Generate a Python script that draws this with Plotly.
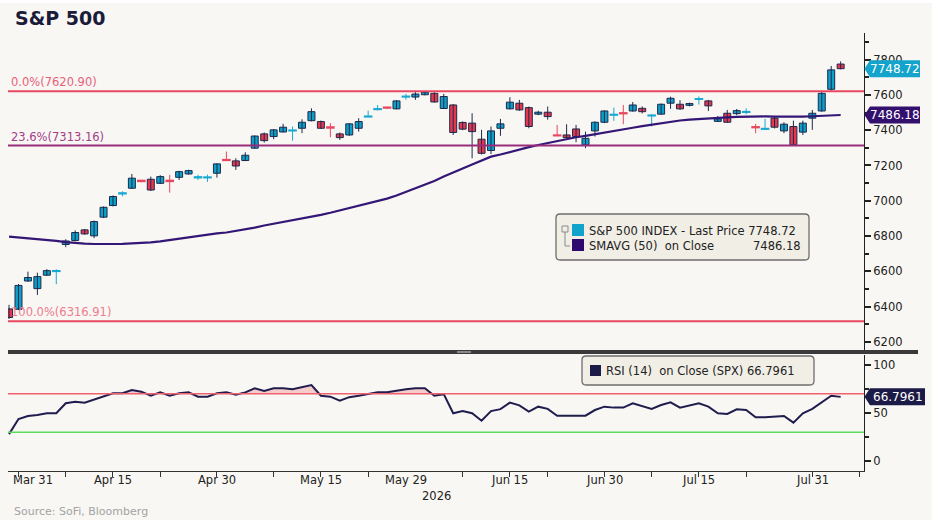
import plotly.graph_objects as go
import pandas as pd

W, H = 932, 520

# ---------------- data ----------------
holidays = ["2026-04-03", "2026-05-25", "2026-06-19", "2026-07-03"]
calendar = pd.bdate_range("2026-03-30", "2026-08-07", freq="C", holidays=holidays)

open_ = [6387, 6385, 6545, 6502, 6578, 6600, 6752, 6775, 6835, 6801,
         6907, 6973, 7040, 7071, 7115, 7122, 7099, 7115, 7133, 7152,
         7131, 7131, 7156, 7233, 7226, 7228, 7298, 7379, 7364, 7390,
         7397, 7411, 7454, 7449, 7418, 7379, 7373, 7411, 7476, 7518,
         7530, 7521, 7589, 7588, 7601, 7609, 7523, 7543, 7444, 7440,
         7349, 7285, 7411, 7521, 7553, 7528, 7491, 7502, 7372, 7373,
         7407, 7317, 7396, 7445, 7486, 7498, 7509, 7524, 7482, 7491,
         7553, 7547, 7541, 7576, 7566, 7450, 7496, 7494, 7502, 7419,
         7406, 7468, 7396, 7421, 7389, 7468, 7509, 7632, 7775]
high_ = [6410, 6528, 6598, 6592, 6612, 6612, 6782, 6832, 6840, 6888,
         6968, 7030, 7054, 7152, 7118, 7137, 7145, 7147, 7170, 7176,
         7147, 7148, 7212, 7279, 7241, 7275, 7370, 7387, 7406, 7436,
         7421, 7462, 7524, 7455, 7440, 7387, 7440, 7468, 7511, 7543,
         7533, 7570, 7606, 7617, 7620.9, 7615, 7606, 7548, 7450, 7496,
         7402, 7421, 7464, 7587, 7572, 7534, 7510, 7534, 7430, 7434,
         7430, 7392, 7450, 7512, 7528, 7543, 7560, 7535, 7490, 7552,
         7590, 7570, 7556, 7591, 7572, 7480, 7515, 7520, 7524, 7436,
         7464, 7481, 7445, 7454, 7454, 7515, 7619, 7764, 7790]
low_ = [6330, 6380, 6540, 6466, 6575, 6527, 6737, 6770, 6808, 6788,
        6902, 6968, 7025, 7068, 7105, 7055, 7095, 7046, 7118, 7148,
        7118, 7107, 7131, 7228, 7175, 7225, 7295, 7330, 7349, 7387,
        7341, 7383, 7450, 7408, 7360, 7345, 7368, 7392, 7474, 7512,
        7522, 7518, 7573, 7572, 7598, 7556, 7520, 7373, 7400, 7241,
        7262, 7265, 7368, 7518, 7510, 7411, 7485, 7460, 7366, 7355,
        7332, 7298, 7364, 7440, 7453, 7434, 7505, 7495, 7421, 7488,
        7521, 7515, 7535, 7545, 7509, 7447, 7442, 7485, 7490, 7383,
        7404, 7410, 7383, 7312, 7373, 7402, 7505, 7625, 7745]
close_ = [6338, 6520, 6565, 6570, 6604, 6603, 6772, 6820, 6812, 6882,
          6963, 7024, 7044, 7128, 7110, 7061, 7137, 7110, 7165, 7171,
          7135, 7134, 7209, 7229, 7197, 7258, 7367, 7341, 7402, 7417,
          7400, 7445, 7505, 7411, 7413, 7358, 7436, 7449, 7479, 7521,
          7526, 7566, 7592, 7605, 7615, 7560, 7591, 7387, 7406, 7392,
          7269, 7396, 7436, 7559, 7515, 7421, 7502, 7477, 7369, 7358,
          7364, 7354, 7445, 7509, 7489, 7494, 7543, 7505, 7485, 7547,
          7581, 7521, 7551, 7578, 7538, 7464, 7445, 7511, 7505, 7415,
          7409, 7417, 7434, 7317, 7440, 7496, 7609, 7742, 7748.72]
sma50 = [6797, 6793, 6789, 6785, 6780, 6773, 6766, 6760, 6757, 6755,
         6754, 6755, 6756, 6758, 6760, 6764, 6770, 6778, 6786, 6794,
         6803, 6810, 6815, 6820, 6828, 6838, 6848, 6860, 6870, 6878,
         6887, 6897, 6908, 6920, 6932, 6945, 6958, 6970, 6983, 6997,
         7012, 7030, 7050, 7070, 7090, 7112, 7137, 7162, 7183, 7205,
         7228, 7250, 7262, 7277, 7292, 7304, 7316, 7327, 7340, 7352,
         7360, 7368, 7378, 7385, 7395, 7405, 7414, 7423, 7432, 7440,
         7448, 7455, 7460, 7464, 7467, 7470, 7473, 7475, 7477, 7478,
         7478, 7477, 7476, 7476, 7477, 7479, 7481, 7484, 7486.18]
rsi14 = [28.0, 43.7, 46.9, 47.9, 49.7, 49.7, 60.1, 61.8, 60.8, 64.3,
         67.7, 70.5, 70.5, 74.0, 72.2, 68.0, 71.5, 68.0, 70.5, 71.5,
         67.0, 67.0, 70.5, 71.5, 69.0, 71.5, 75.7, 73.0, 75.7, 75.7,
         74.7, 76.7, 79.1, 68.0, 67.0, 62.8, 66.5, 68.0, 69.5, 71.5,
         71.5, 73.3, 74.7, 75.7, 75.7, 68.0, 69.6, 49.7, 52.0, 49.7,
         42.0, 52.0, 54.0, 60.8, 58.0, 51.4, 56.6, 54.3, 47.2, 47.2,
         47.2, 47.2, 53.1, 56.6, 55.6, 55.6, 60.1, 57.3, 54.3, 58.3,
         61.1, 55.6, 57.6, 60.1, 56.6, 49.7, 49.0, 53.8, 53.1, 45.5,
         45.5, 46.2, 46.9, 40.0, 49.7, 54.3, 60.8, 68.0, 66.7961]

fib_levels = [7620.90, 7313.16, 6316.91]
fib_labels = ["0.0%(7620.90)", "23.6%(7313.16)", "100.0%(6316.91)"]
rsi_over, rsi_under = 70, 30

tick_dates = ["2026-03-31", "2026-04-08", "2026-04-15", "2026-04-22", "2026-04-30",
              "2026-05-08", "2026-05-15", "2026-05-22", "2026-06-08", "2026-06-15",
              "2026-06-22", "2026-06-30", "2026-07-08", "2026-07-15", "2026-07-22",
              "2026-07-31", "2026-08-07"]
label_dates = ["2026-03-31", "2026-04-15", "2026-04-30", "2026-05-15", "2026-05-29",
               "2026-06-15", "2026-06-30", "2026-07-15", "2026-07-31"]
label_texts = ["Mar 31", "Apr 15", "Apr 30", "May 15", "May 29",
               "Jun 15", "Jun 30", "Jul 15", "Jul 31"]

# ---------------- helpers ----------------
n = len(close_)
idx = list(range(n))
pos = {d.strftime("%Y-%m-%d"): i for i, d in enumerate(calendar)}
FONT = "DejaVu Sans"
BG = "#F8F7F3"


def px(x):
    return x / W


def py(y):
    return 1 - y / H


X_DOM = [px(8), px(864)]
Y2_DOM = [py(350), py(33)]
Y1_DOM = [py(471), py(355)]
Y2_RANGE = [6154, 7951]
Y1_RANGE = [-10.4, 110.4]
X_RANGE = [-0.11, 90.47]

p_per_px = (Y2_RANGE[1] - Y2_RANGE[0]) / (350 - 33)
r_per_px = (Y1_RANGE[1] - Y1_RANGE[0]) / (471 - 355)

UP = "#0C9FC8"
DN = "#E5384F"
UP_DOJI = "#18A8D0"
DN_DOJI = "#E8485F"
OUTLINE = "#1D2A4C"

is_up = [c >= o for o, c in zip(open_, close_)]
doji = [abs(c - o) < 6 for o, c in zip(open_, close_)]

fig = go.Figure()

# wicks
for want_doji in (False, True):
    for up in (True, False):
        ids = [i for i in idx if doji[i] == want_doji and is_up[i] == up]
        if not ids:
            continue
        wx, wy = [], []
        for i in ids:
            wx += [i, i, None]
            wy += [low_[i], high_[i], None]
        col = OUTLINE if not want_doji else (UP_DOJI if up else DN_DOJI)
        fig.add_trace(go.Scatter(x=wx, y=wy, mode="lines", xaxis="x2", yaxis="y2",
                                 line=dict(color=col, width=1), hoverinfo="skip"))

# bodies
for want_doji in (False, True):
    for up in (True, False):
        ids = [i for i in idx if doji[i] == want_doji and is_up[i] == up]
        if not ids:
            continue
        base = [min(open_[i], close_[i]) for i in ids]
        hgt = [max(abs(close_[i] - open_[i]), 1.5) for i in ids]
        fill = UP if up else DN
        if want_doji:
            fill = UP_DOJI if up else DN_DOJI
            line = dict(color=fill, width=1.6)
        else:
            line = dict(color=OUTLINE, width=1)
        fig.add_trace(go.Bar(x=ids, y=hgt, base=base, width=0.74, xaxis="x2", yaxis="y2",
                             marker=dict(color=fill, line=line), hoverinfo="skip"))

fig.add_trace(go.Scatter(x=idx, y=sma50, xaxis="x2", yaxis="y2", mode="lines",
                         line=dict(color="#331676", width=2.2), hoverinfo="skip"))

# RSI overbought fill
fig.add_trace(go.Scatter(x=idx, y=[rsi_over] * n, mode="lines", line=dict(width=0),
                         hoverinfo="skip", xaxis="x", yaxis="y"))
fig.add_trace(go.Scatter(x=idx, y=[max(v, rsi_over) for v in rsi14], mode="lines",
                         line=dict(width=0), fill="tonexty",
                         fillcolor="rgba(240,120,130,0.35)", hoverinfo="skip",
                         xaxis="x", yaxis="y"))
fig.add_trace(go.Scatter(x=idx, y=rsi14, mode="lines", xaxis="x", yaxis="y",
                         line=dict(color="#1F1D4D", width=2), hoverinfo="skip"))

shapes = []
annotations = []

# top white strip of the frame
shapes.append(dict(type="rect", xref="paper", yref="paper", x0=0, x1=1,
                   y0=py(3), y1=1, line=dict(width=0), fillcolor="#FFFFFF"))

# fib lines
fib_colors = ["#E8485F", "#9A2C7C", "#E8485F"]
fib_text_colors = ["#E8607A", "#A33D8A", "#EE7A8C"]
for lvl, lab, c, tc in zip(fib_levels, fib_labels, fib_colors, fib_text_colors):
    shapes.append(dict(type="line", xref="x2 domain", yref="y2", x0=0, x1=1,
                       y0=lvl, y1=lvl, line=dict(color=c, width=2)))
    annotations.append(dict(text=lab, xref="paper", yref="y2", x=px(9), y=lvl,
                            xanchor="left", yanchor="bottom", showarrow=False,
                            font=dict(family=FONT, size=11.5, color=tc)))

# RSI reference lines
shapes.append(dict(type="line", xref="x domain", yref="y", x0=0, x1=1,
                   y0=rsi_over, y1=rsi_over, line=dict(color="#F0606E", width=1.5)))
shapes.append(dict(type="line", xref="x domain", yref="y", x0=0, x1=1,
                   y0=rsi_under, y1=rsi_under, line=dict(color="#5CDB5C", width=1.5)))

# separator bar
shapes.append(dict(type="rect", xref="paper", yref="paper", x0=px(8), x1=px(918),
                   y0=py(354), y1=py(350), line=dict(width=0), fillcolor="#3A3A3A"))
shapes.append(dict(type="rect", xref="paper", yref="paper", x0=px(457), x1=px(471),
                   y0=py(353), y1=py(351), line=dict(width=0), fillcolor="#8A8A8A"))


def badge(value, yref, per_px, color, right, text):
    hh = 8.5 * per_px
    path = (f"M {px(864.5)},{value} L {px(870)},{value + hh} L {px(right)},{value + hh} "
            f"L {px(right)},{value - hh} L {px(870)},{value - hh} Z")
    shapes.append(dict(type="path", xref="paper", yref=yref, path=path,
                       fillcolor=color, line=dict(width=0), layer="above"))
    annotations.append(dict(text=text, xref="paper", yref=yref, x=px((870 + right) / 2),
                            y=value, xanchor="center", yanchor="middle", showarrow=False,
                            font=dict(family=FONT, size=12, color="white")))


badge(close_[-1], "y2", p_per_px, "#13A3CB", 920, f"{close_[-1]:.2f}")
badge(sma50[-1], "y2", p_per_px, "#34106E", 920, f"{sma50[-1]:.2f}")
badge(rsi14[-1], "y", r_per_px, "#1C1A46", 925, f"{rsi14[-1]:.4f}")


def rrect(x0, y0, x1, y1, r=4):
    rx, ry = r / W, r / H
    a0, b0, a1, b1 = px(x0), py(y1), px(x1), py(y0)
    return (f"M {a0 + rx},{b0} L {a1 - rx},{b0} Q {a1},{b0} {a1},{b0 + ry} "
            f"L {a1},{b1 - ry} Q {a1},{b1} {a1 - rx},{b1} L {a0 + rx},{b1} "
            f"Q {a0},{b1} {a0},{b1 - ry} L {a0},{b0 + ry} Q {a0},{b0} {a0 + rx},{b0} Z")


TXT = dict(family=FONT, size=11.5, color="#222222")

# price legend box
shapes.append(dict(type="path", xref="paper", yref="paper", path=rrect(556, 214, 809, 260),
                   fillcolor="#F1EEE6", line=dict(color="#6E6E6E", width=1.3)))
shapes.append(dict(type="rect", xref="paper", yref="paper", x0=px(562), x1=px(568),
                   y0=py(232), y1=py(226), line=dict(color="#8A8A8A", width=1)))
shapes.append(dict(type="path", xref="paper", yref="paper",
                   path=f"M {px(565)},{py(232)} L {px(565)},{py(246)} L {px(570)},{py(246)}",
                   line=dict(color="#8A8A8A", width=1)))
shapes.append(dict(type="rect", xref="paper", yref="paper", x0=px(572), x1=px(584),
                   y0=py(236), y1=py(224), line=dict(width=0), fillcolor="#10A3CC"))
shapes.append(dict(type="rect", xref="paper", yref="paper", x0=px(572), x1=px(584),
                   y0=py(251), y1=py(239), line=dict(width=0), fillcolor="#2E0A6E"))
annotations.append(dict(text=f"S&P 500 INDEX - Last Price {close_[-1]:.2f}",
                        xref="paper", yref="paper", x=px(587), y=py(230.5),
                        xanchor="left", yanchor="middle", showarrow=False, font=TXT))
annotations.append(dict(text="SMAVG (50)\u00a0\u00a0on Close", xref="paper", yref="paper",
                        x=px(587), y=py(245.5), xanchor="left", yanchor="middle",
                        showarrow=False, font=TXT))
annotations.append(dict(text=f"{sma50[-1]:.2f}", xref="paper", yref="paper",
                        x=px(803), y=py(245.5), xanchor="right", yanchor="middle",
                        showarrow=False, font=TXT))

# RSI legend box
shapes.append(dict(type="path", xref="paper", yref="paper", path=rrect(582, 356, 814, 385),
                   fillcolor="#F1EEE6", line=dict(color="#6E6E6E", width=1.3)))
shapes.append(dict(type="rect", xref="paper", yref="paper", x0=px(590), x1=px(601),
                   y0=py(376), y1=py(365), line=dict(width=0), fillcolor="#1C1A46"))
annotations.append(dict(text=f"RSI (14)\u00a0\u00a0on Close (SPX) {rsi14[-1]:.4f}",
                        xref="paper", yref="paper", x=px(604), y=py(370.5),
                        xanchor="left", yanchor="middle", showarrow=False, font=TXT))

# x labels
for d, t in zip(label_dates, label_texts):
    annotations.append(dict(text=t, xref="x", yref="paper", x=pos[d], y=py(480),
                            xanchor="center", yanchor="middle", showarrow=False,
                            xshift=15 if t == "Mar 31" else 0, font=TXT))
annotations.append(dict(text="2026", xref="x", yref="paper", x=pos["2026-05-29"], y=py(496),
                        xanchor="center", yanchor="middle", showarrow=False, xshift=31,
                        font=TXT))
annotations.append(dict(text="Source: SoFi, Bloomberg", xref="paper", yref="paper",
                        x=px(12), y=py(511), xanchor="left", yanchor="middle",
                        showarrow=False, font=dict(family=FONT, size=11, color="#A3A3A3")))
annotations.append(dict(text="<b>S&P 500</b>", xref="paper", yref="paper",
                        x=px(13), y=py(18), xanchor="left", yanchor="middle",
                        showarrow=False, font=dict(family=FONT, size=19, color="#1B1B3A")))

fig.update_layout(
    width=W, height=H, margin=dict(l=0, r=0, t=0, b=0),
    paper_bgcolor=BG, plot_bgcolor=BG, showlegend=False, barmode="overlay",
    shapes=shapes, annotations=annotations,
    xaxis=dict(domain=X_DOM, range=X_RANGE, anchor="y", showgrid=False, zeroline=False,
               showline=True, linecolor="#333333", linewidth=1,
               tickvals=[pos[d] for d in tick_dates], ticktext=[""] * len(tick_dates),
               ticks="outside", ticklen=5, tickcolor="#333333", showticklabels=False),
    xaxis2=dict(domain=X_DOM, range=X_RANGE, anchor="y2", matches="x", showgrid=False,
                zeroline=False, showticklabels=False),
    yaxis=dict(domain=Y1_DOM, range=Y1_RANGE, anchor="x", side="right", showgrid=False,
               zeroline=False, showline=True, linecolor="#222222", linewidth=1,
               tickvals=[0, 50, 100], ticks="outside", ticklen=6, tickwidth=2,
               tickcolor="#222222", tickfont=TXT,
               minor=dict(tickvals=[25, 75], ticks="outside", ticklen=4,
                          tickcolor="#222222")),
    yaxis2=dict(domain=Y2_DOM, range=Y2_RANGE, anchor="x2", side="right", showgrid=False,
                zeroline=False, showline=True, linecolor="#222222", linewidth=1,
                dtick=200, tick0=6200, ticks="outside", ticklen=6, tickwidth=2,
                tickcolor="#222222", tickfont=TXT,
                minor=dict(dtick=100, ticks="outside", ticklen=4, tickcolor="#222222")),
)

fig.write_html("out.html", config={"displayModeBar": False},
               post_script="document.body.style.margin='0px';")
